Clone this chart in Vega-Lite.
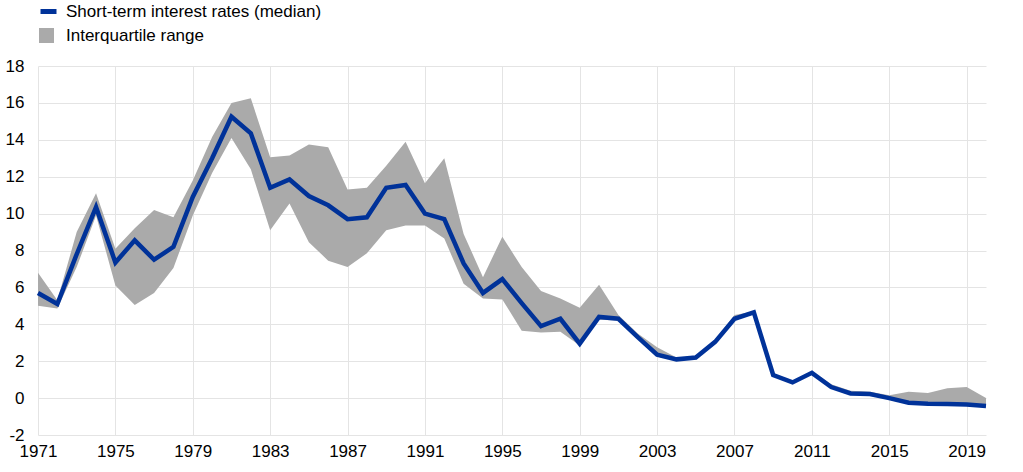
{
  "$schema": "https://vega.github.io/schema/vega-lite/v6.json",
  "width": 948,
  "height": 369,
  "autosize": {"type": "none"},
  "padding": {"left": 38, "top": 66, "right": 37, "bottom": 37},
  "config": {
    "view": {"stroke": null},
    "font": "Liberation Sans",
    "axis": {"labelFontSize": 17, "labelOverlap": false, "labelFlush": false, "labelColor": "#000000", "domain": false, "ticks": false, "gridColor": "#e4e4e4"}
  },
  "data": {
    "values": [
      {"year": 1971, "median": 5.7, "lower": 5.0, "upper": 6.8},
      {"year": 1972, "median": 5.1, "lower": 4.85, "upper": 5.3},
      {"year": 1973, "median": 7.8, "lower": 7.1, "upper": 9.0},
      {"year": 1974, "median": 10.35, "lower": 9.9, "upper": 11.1},
      {"year": 1975, "median": 7.35, "lower": 6.1, "upper": 8.1},
      {"year": 1976, "median": 8.55, "lower": 5.05, "upper": 9.2},
      {"year": 1977, "median": 7.5, "lower": 5.7, "upper": 10.2},
      {"year": 1978, "median": 8.2, "lower": 7.05, "upper": 9.8},
      {"year": 1979, "median": 10.9, "lower": 9.9, "upper": 11.8},
      {"year": 1980, "median": 13.0, "lower": 12.2, "upper": 14.15},
      {"year": 1981, "median": 15.25, "lower": 14.1, "upper": 16.0},
      {"year": 1982, "median": 14.35, "lower": 12.4, "upper": 16.25},
      {"year": 1983, "median": 11.4, "lower": 9.1, "upper": 13.05},
      {"year": 1984, "median": 11.85, "lower": 10.55, "upper": 13.15},
      {"year": 1985, "median": 10.95, "lower": 8.45, "upper": 13.75},
      {"year": 1986, "median": 10.45, "lower": 7.45, "upper": 13.6},
      {"year": 1987, "median": 9.7, "lower": 7.1, "upper": 11.3},
      {"year": 1988, "median": 9.8, "lower": 7.85, "upper": 11.4},
      {"year": 1989, "median": 11.4, "lower": 9.1, "upper": 12.6},
      {"year": 1990, "median": 11.55, "lower": 9.35, "upper": 13.9},
      {"year": 1991, "median": 10.0, "lower": 9.35, "upper": 11.65},
      {"year": 1992, "median": 9.7, "lower": 8.65, "upper": 13.0},
      {"year": 1993, "median": 7.3, "lower": 6.2, "upper": 8.9},
      {"year": 1994, "median": 5.7, "lower": 5.4, "upper": 6.55},
      {"year": 1995, "median": 6.45, "lower": 5.35, "upper": 8.75},
      {"year": 1996, "median": 5.15, "lower": 3.65, "upper": 7.1},
      {"year": 1997, "median": 3.9, "lower": 3.55, "upper": 5.8},
      {"year": 1998, "median": 4.3, "lower": 3.6, "upper": 5.4},
      {"year": 1999, "median": 2.95, "lower": 2.85, "upper": 4.9},
      {"year": 2000, "median": 4.4, "lower": 4.25, "upper": 6.15},
      {"year": 2001, "median": 4.3, "lower": 4.2, "upper": 4.5},
      {"year": 2002, "median": 3.3, "lower": 3.2, "upper": 3.5},
      {"year": 2003, "median": 2.35, "lower": 2.3, "upper": 2.75},
      {"year": 2004, "median": 2.1, "lower": 2.05, "upper": 2.2},
      {"year": 2005, "median": 2.2, "lower": 2.15, "upper": 2.25},
      {"year": 2006, "median": 3.05, "lower": 2.95, "upper": 3.15},
      {"year": 2007, "median": 4.3, "lower": 4.2, "upper": 4.5},
      {"year": 2008, "median": 4.65, "lower": 4.6, "upper": 4.7},
      {"year": 2009, "median": 1.25, "lower": 1.2, "upper": 1.3},
      {"year": 2010, "median": 0.85, "lower": 0.8, "upper": 0.9},
      {"year": 2011, "median": 1.37, "lower": 1.3, "upper": 1.45},
      {"year": 2012, "median": 0.6, "lower": 0.55, "upper": 0.75},
      {"year": 2013, "median": 0.25, "lower": 0.2, "upper": 0.4},
      {"year": 2014, "median": 0.22, "lower": 0.15, "upper": 0.35},
      {"year": 2015, "median": 0.0, "lower": -0.05, "upper": 0.15},
      {"year": 2016, "median": -0.25, "lower": -0.3, "upper": 0.35},
      {"year": 2017, "median": -0.3, "lower": -0.35, "upper": 0.27},
      {"year": 2018, "median": -0.32, "lower": -0.37, "upper": 0.53},
      {"year": 2019, "median": -0.35, "lower": -0.4, "upper": 0.6},
      {"year": 2020, "median": -0.43, "lower": -0.48, "upper": 0.0}
    ]
  },
  "encoding": {
    "x": {
      "field": "year",
      "type": "quantitative",
      "scale": {"domain": [1971, 2020], "nice": false, "zero": false},
      "axis": {
        "values": [1971, 1975, 1979, 1983, 1987, 1991, 1995, 1999, 2003, 2007, 2011, 2015, 2019],
        "labelExpr": "'' + datum.value",
        "title": null, "domain": false, "ticks": false, "grid": true, "gridColor": "#e4e4e4", "gridWidth": 1,
        "labelFontSize": 17, "labelFont": "Liberation Sans", "labelColor": "#000000",
        "labelOverlap": false, "labelFlush": false, "labelPadding": 8
      }
    },
    "y": {
      "field": "median",
      "type": "quantitative",
      "scale": {"domain": [-2, 18], "nice": false, "zero": false},
      "axis": {
        "values": [-2, 0, 2, 4, 6, 8, 10, 12, 14, 16, 18],
        "labelExpr": "'' + datum.value",
        "title": null, "domain": false, "ticks": false, "grid": true, "gridColor": "#e4e4e4", "gridWidth": 1,
        "labelFontSize": 17, "labelFont": "Liberation Sans", "labelColor": "#000000",
        "labelOverlap": false, "labelFlush": false, "labelPadding": 14
      }
    }
  },
  "layer": [
    {
      "mark": {"type": "area", "fillOpacity": 1},
      "encoding": {
        "y": {"field": "lower", "type": "quantitative"},
        "y2": {"field": "upper"},
        "fill": {
          "datum": "Interquartile range",
          "type": "nominal",
          "scale": {"range": ["#aaaaaa"]},
          "legend": {"orient": "none", "legendX": 0, "legendY": -39, "padding": 0, "title": null, "symbolType": "square", "symbolSize": 225, "symbolStrokeWidth": 0, "symbolOpacity": 1, "labelFontSize": 17, "labelFont": "Liberation Sans", "labelColor": "#000000", "labelOffset": 11, "labelLimit": 0}
        }
      }
    },
    {
      "mark": {"type": "rule", "color": "#333333", "strokeWidth": 1.3},
      "encoding": {"y": {"datum": 0, "type": "quantitative"}}
    },
    {
      "mark": {"type": "line", "strokeWidth": 4.5},
      "encoding": {
        "stroke": {
          "datum": "Short-term interest rates (median)",
          "type": "nominal",
          "scale": {"range": ["#003299"]},
          "legend": {"orient": "none", "legendX": 0, "legendY": -65, "padding": 0, "title": null, "symbolType": "stroke", "symbolSize": 256, "symbolStrokeWidth": 5, "labelFontSize": 17, "labelFont": "Liberation Sans", "labelColor": "#000000", "labelOffset": 7, "labelLimit": 0}
        }
      }
    }
  ]
}
